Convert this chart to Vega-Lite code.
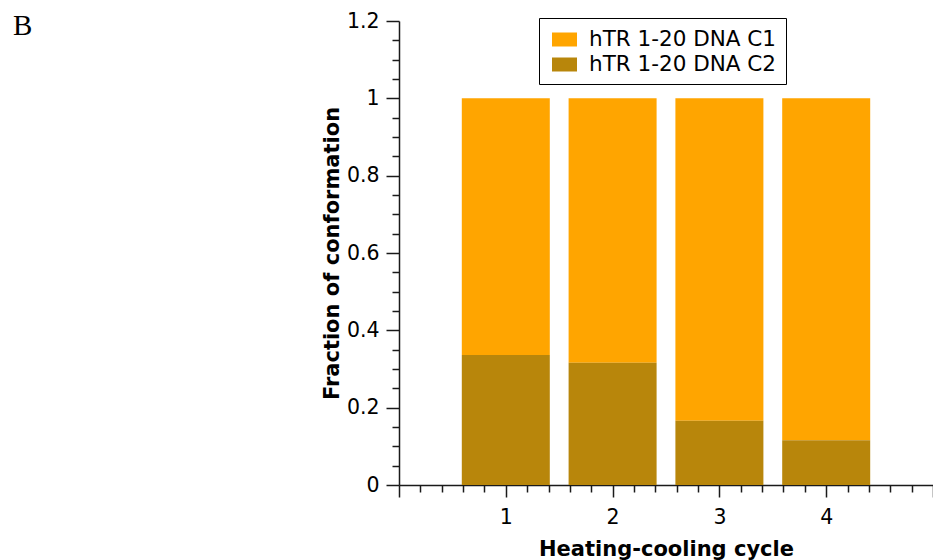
{
  "$schema": "https://vega.github.io/schema/vega-lite/v6.json",
  "width": 534,
  "height": 464,
  "autosize": {"type": "none"},
  "padding": {"left": 399, "top": 21, "right": 0, "bottom": 75},
  "background": "white",
  "title": {
    "text": "B",
    "anchor": "start",
    "frame": "group",
    "font": "Liberation Serif",
    "fontSize": 29,
    "fontWeight": "normal",
    "color": "black",
    "baseline": "alphabetic",
    "offset": 0,
    "dx": -386,
    "dy": 53
  },
  "config": {
    "view": {"stroke": null},
    "axis": {
      "grid": false,
      "domainColor": "#1a1a1a",
      "domainWidth": 1.5,
      "tickColor": "#1a1a1a",
      "tickWidth": 1.5,
      "labelFont": "DejaVu Sans",
      "labelFontSize": 20.5,
      "labelColor": "black",
      "labelOverlap": false,
      "labelFlush": false,
      "titleFont": "DejaVu Sans",
      "titleFontSize": 21,
      "titleFontWeight": "bold",
      "titleColor": "black"
    }
  },
  "data": {
    "values": [
      {"cycle": 1, "conformation": "hTR 1-20 DNA C1", "fraction": 0.664},
      {"cycle": 1, "conformation": "hTR 1-20 DNA C2", "fraction": 0.336},
      {"cycle": 2, "conformation": "hTR 1-20 DNA C1", "fraction": 0.684},
      {"cycle": 2, "conformation": "hTR 1-20 DNA C2", "fraction": 0.316},
      {"cycle": 3, "conformation": "hTR 1-20 DNA C1", "fraction": 0.834},
      {"cycle": 3, "conformation": "hTR 1-20 DNA C2", "fraction": 0.166},
      {"cycle": 4, "conformation": "hTR 1-20 DNA C1", "fraction": 0.884},
      {"cycle": 4, "conformation": "hTR 1-20 DNA C2", "fraction": 0.116}
    ]
  },
  "mark": {"type": "bar", "size": 88},
  "encoding": {
    "x": {
      "field": "cycle",
      "type": "quantitative",
      "title": "Heating-cooling cycle",
      "scale": {"domain": [0, 5], "nice": false, "zero": false, "padding": 0},
      "axis": {
        "values": [0, 0.2, 0.4, 0.6, 0.8, 1, 1.2, 1.4, 1.6, 1.8, 2, 2.2, 2.4, 2.6, 2.8, 3, 3.2, 3.4, 3.6, 3.8, 4, 4.2, 4.4, 4.6, 4.8, 5],
        "tickSize": {"condition": {"test": "datum.value % 1 == 0", "value": 12}, "value": 7},
        "labelExpr": "datum.value >= 1 && datum.value <= 4 && datum.value % 1 == 0 ? format(datum.value, 'd') : ''",
        "labelPadding": 10,
        "titlePadding": 11
      }
    },
    "y": {
      "field": "fraction",
      "type": "quantitative",
      "stack": "zero",
      "title": "Fraction of conformation",
      "scale": {"domain": [0, 1.2], "nice": false},
      "axis": {
        "values": [0, 0.05, 0.1, 0.15, 0.2, 0.25, 0.3, 0.35, 0.4, 0.45, 0.5, 0.55, 0.6, 0.65, 0.7, 0.75, 0.8, 0.85, 0.9, 0.95, 1, 1.05, 1.1, 1.15, 1.2],
        "tickSize": {"condition": {"test": "abs(datum.value * 5 - round(datum.value * 5)) < 0.000001", "value": 13}, "value": 7},
        "labelExpr": "abs(datum.value * 5 - round(datum.value * 5)) < 0.000001 ? format(datum.value, '~g') : ''",
        "labelPadding": 7,
        "titlePadding": 4
      }
    },
    "color": {
      "field": "conformation",
      "type": "nominal",
      "scale": {
        "domain": ["hTR 1-20 DNA C1", "hTR 1-20 DNA C2"],
        "range": ["#FFA500", "#B8860B"]
      },
      "legend": {
        "title": null,
        "orient": "none",
        "legendX": 140,
        "legendY": -3,
        "strokeColor": "black",
        "fillColor": "white",
        "padding": 9,
        "symbolType": "M-1,-0.56H1V0.56H-1Z",
        "symbolSize": 625,
        "symbolStrokeWidth": 0,
        "symbolOpacity": 1,
        "symbolOffset": 4,
        "labelFont": "DejaVu Sans",
        "labelFontSize": 21.5,
        "labelColor": "black",
        "labelOffset": 12,
        "labelLimit": 400,
        "rowPadding": 2
      }
    },
    "order": {"field": "conformation", "sort": "descending"}
  }
}
